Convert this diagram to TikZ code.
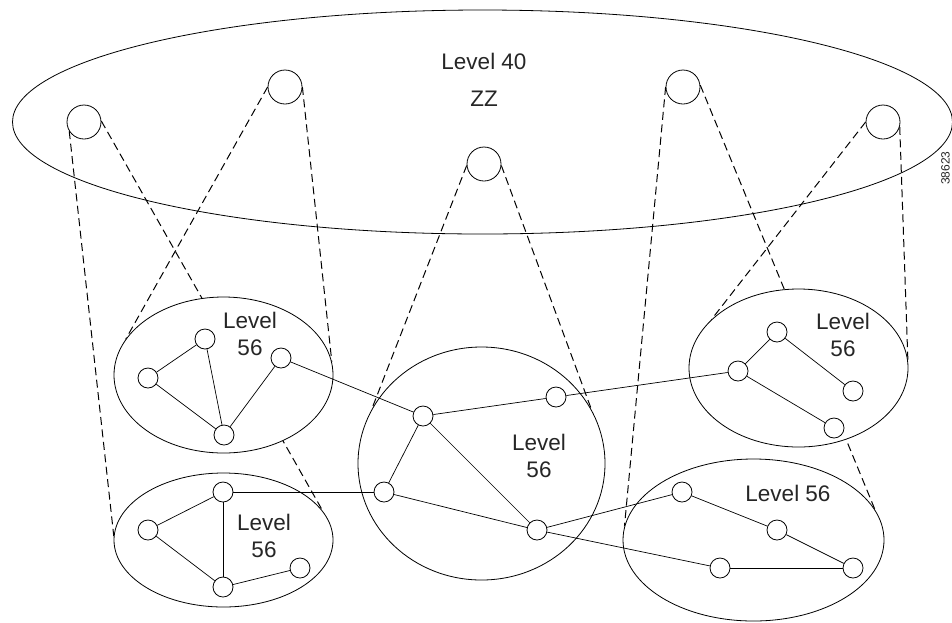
\documentclass[tikz,border=0pt]{standalone}
\usepackage{fontspec}
\setmainfont{Liberation Sans}
\usetikzlibrary{shapes.geometric}
\pgfdeclarelayer{bg}
\pgfsetlayers{bg,main}
\begin{document}
\begin{tikzpicture}[x=1pt,y=-1pt,
  bigell/.style={ellipse, draw, line width=0.8pt, inner sep=0pt},
  group/.style={ellipse, draw, fill=white, line width=0.8pt, inner sep=0pt},
  topnode/.style={circle, draw, fill=white, line width=0.8pt, minimum size=34pt, inner sep=0pt},
  sn/.style={circle, draw, fill=white, line width=0.8pt, minimum size=20pt, inner sep=0pt},
  link/.style={line width=0.7pt},
  proj/.style={line width=1pt, dash pattern=on 8pt off 4.5pt},
  lbl/.style={font=\fontsize{22.5}{27.5}\selectfont, text=black!85, align=center, inner sep=0pt},
]
\useasboundingbox (0,0) rectangle (952,622);

% top level
\node[bigell, minimum width=940pt, minimum height=224pt] (top) at (482.5,122) {};
\node[lbl] (t40) at (484,61) {Level 40};
\node[lbl] (tzz) at (484,98.5) {ZZ};
\node[topnode] (C1) at (84,122) {};
\node[topnode] (C2) at (285,87) {};
\node[topnode] (C3) at (484,164) {};
\node[topnode] (C4) at (683,87) {};
\node[topnode] (C5) at (883,122) {};

% lower groups
\node[group, minimum width=219pt, minimum height=156pt] (E1) at (223.5,375) {};
\node[group, minimum width=219pt, minimum height=134pt] (E2) at (223.5,540) {};
\node[group, minimum width=247pt, minimum height=233pt] (E3) at (481.5,463.5) {};
\node[group, minimum width=219pt, minimum height=158pt] (E4) at (798.5,368) {};
\node[group, minimum width=261pt, minimum height=162pt] (E5) at (753.5,540) {};

\node[lbl] (l1) at (250,334) {Level\\56};
\node[lbl] (l2) at (264,536) {Level\\56};
\node[lbl] (l3) at (539,456) {Level\\56};
\node[lbl] (l4) at (843,335) {Level\\56};
\node[lbl] (l5) at (788,493) {Level 56};

% small nodes
\node[sn] (a1) at (148,378) {};
\node[sn] (a2) at (205,339) {};
\node[sn] (a3) at (224,435) {};
\node[sn] (a4) at (281,358) {};
\node[sn] (b1) at (223,492) {};
\node[sn] (b2) at (148,530) {};
\node[sn] (b3) at (223,587) {};
\node[sn] (b4) at (300,568) {};
\node[sn] (m1) at (423,416) {};
\node[sn] (m2) at (556,397) {};
\node[sn] (m3) at (384,492) {};
\node[sn] (m4) at (537,530) {};
\node[sn] (c1) at (738,371) {};
\node[sn] (c2) at (777,332) {};
\node[sn] (c3) at (853,391) {};
\node[sn] (c4) at (834,428) {};
\node[sn] (d1) at (682,492) {};
\node[sn] (d2) at (777,530) {};
\node[sn] (d3) at (720,568) {};
\node[sn] (d4) at (853,568) {};

% links
\draw[link] (a1) -- (a2);
\draw[link] (a1) -- (a3);
\draw[link] (a2) -- (a3);
\draw[link] (a3) -- (a4);
\draw[link] (a4) -- (m1);
\draw[link] (b1) -- (b2);
\draw[link] (b2) -- (b3);
\draw[link] (b1) -- (b3);
\draw[link] (b3) -- (b4);
\draw[link] (b1) -- (m3);
\draw[link] (m1) -- (m2);
\draw[link] (m1) -- (m3);
\draw[link] (m1) -- (m4);
\draw[link] (m3) -- (m4);
\draw[link] (m2) -- (c1);
\draw[link] (c1) -- (c2);
\draw[link] (c2) -- (c3);
\draw[link] (c1) -- (c4);
\draw[link] (m4) -- (d1);
\draw[link] (m4) -- (d3);
\draw[link] (d1) -- (d2);
\draw[link] (d2) -- (d4);
\draw[link] (d3) -- (d4);

% figure number
\node[font=\fontsize{12}{14}\selectfont, text=black!85, rotate=90, inner sep=0pt] (fig) at (945.5,168) {38623};

% projection lines (behind the groups)
\begin{pgfonlayer}{bg}
\draw[proj] (C1.212) -- (E2.178);
\draw[proj] (C1.3) -- (E2.16);
\draw[proj] (C2.180) -- (E1.160);
\draw[proj] (C2.0) -- (E1.7);
\draw[proj] (C3.185) -- (E3.154);
\draw[proj] (C3.355) -- (E3.26);
\draw[proj] (C4.180) -- (E5.174);
\draw[proj] (C4.6) -- (E5.14);
\draw[proj] (C5.180) -- (E4.151);
\draw[proj] (C5.344) -- (E4.4);
\end{pgfonlayer}
\end{tikzpicture}
\end{document}
